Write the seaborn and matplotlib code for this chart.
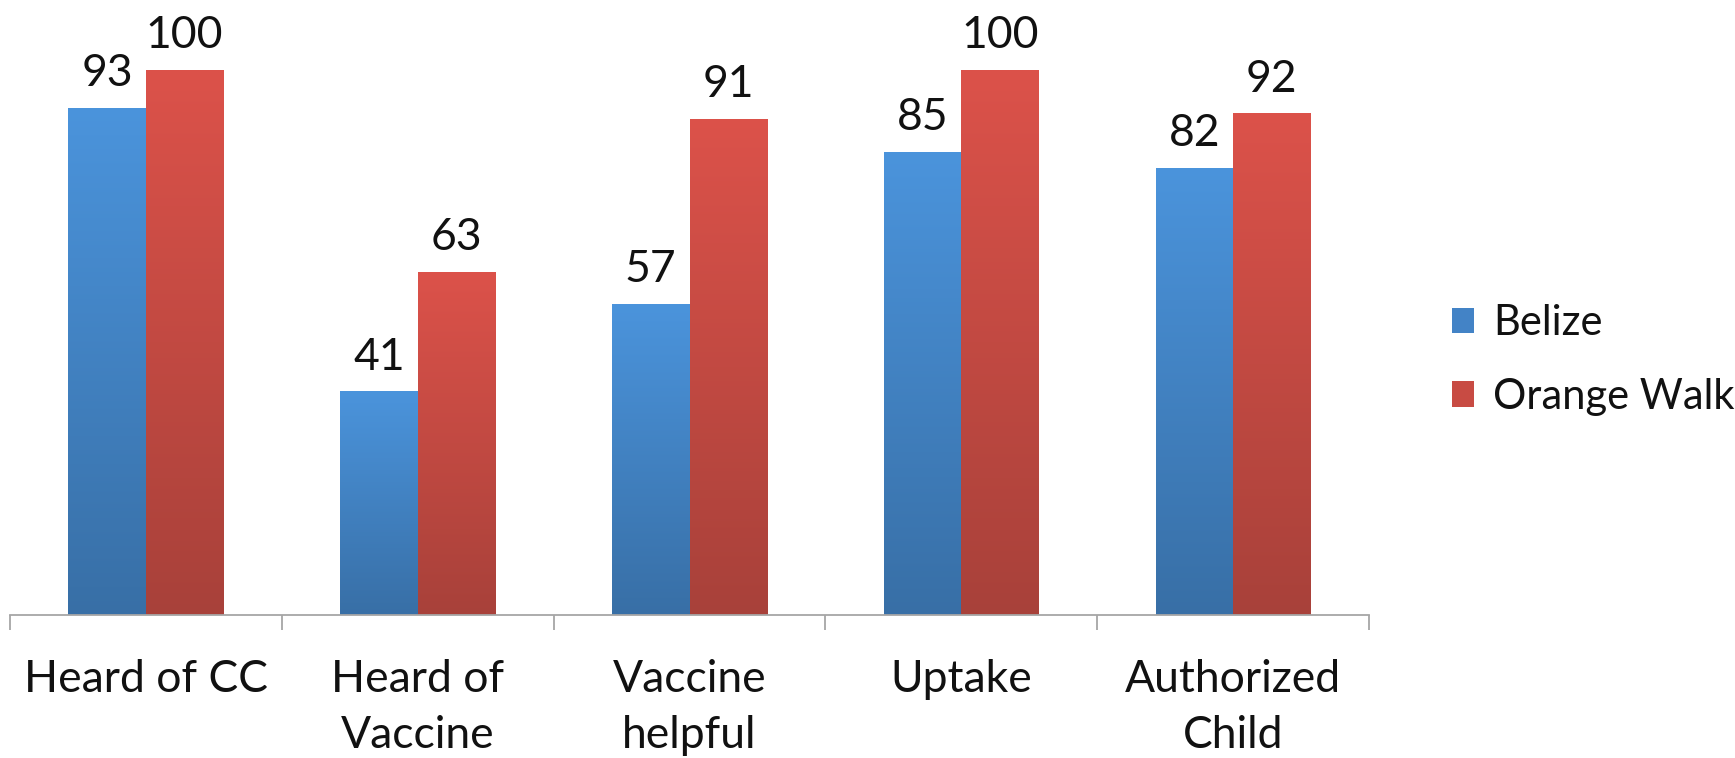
import numpy as np
import pandas as pd
import matplotlib
matplotlib.use("Agg")
import matplotlib.pyplot as plt
from matplotlib.colors import LinearSegmentedColormap
from matplotlib.patches import Patch
import seaborn as sns

# Survey results (%)
categories = ["Heard of CC", "Heard of\nVaccine", "Vaccine\nhelpful", "Uptake", "Authorized\nChild"]
belize = [93, 41, 57, 85, 82]
orange_walk = [100, 63, 91, 100, 92]
series_names = ["Belize", "Orange Walk"]

sns.set_theme(style="white")
plt.rcParams["font.family"] = ["Lato", "DejaVu Sans"]

df = pd.DataFrame({
    "category": categories * 2,
    "value": belize + orange_walk,
    "region": [series_names[0]] * len(categories) + [series_names[1]] * len(categories),
})

# top / bottom shades of the vertical gradient for each series
shades = {
    "Belize": ("#4b94dc", "#386fa6"),
    "Orange Walk": ("#dc524a", "#a8413a"),
}
mid_colors = {"Belize": "#4383c6", "Orange Walk": "#c84b43"}

fig = plt.figure(figsize=(17.35, 7.58), dpi=100)
ax = fig.add_axes([10 / 1735, 143 / 758, 1359 / 1735, 615 / 758])

sns.barplot(data=df, x="category", y="value", hue="region", order=categories,
            hue_order=series_names, palette=mid_colors, width=0.57, gap=0,
            dodge=True, ax=ax, legend=False, linewidth=0, saturation=1)

ax.set_ylim(0, 112.8)
ax.set_xlim(-0.5, len(categories) - 0.5)

# gradient fill clipped to each bar
grad = np.linspace(1, 0, 256).reshape(-1, 1)
for container, name in zip(ax.containers, series_names):
    top, bottom = shades[name]
    cmap = LinearSegmentedColormap.from_list(name, [bottom, top])
    for bar in container:
        x0, y0 = bar.get_x(), bar.get_y()
        w, h = bar.get_width(), bar.get_height()
        im = ax.imshow(grad[::-1], extent=[x0, x0 + w, y0, y0 + h], aspect="auto",
                       cmap=cmap, origin="lower", zorder=bar.get_zorder() + 0.1,
                       vmin=0, vmax=1)
        im.set_clip_path(bar)
        ax.annotate(f"{int(round(h))}", (x0 + w / 2, y0 + h), xytext=(0, 10),
                    textcoords="offset points", ha="center", va="bottom",
                    fontsize=32, color="#111111")

ax.set_ylim(0, 112.8)
ax.set_xlim(-0.5, len(categories) - 0.5)

# category labels centered, separator ticks at group boundaries
ax.set_xticks(range(len(categories)))
ax.set_xticklabels(categories, fontsize=32, color="#111111", linespacing=1.45, va="top")
ax.tick_params(axis="x", which="major", length=0, pad=32)
ax.set_xticks(np.arange(-0.5, len(categories), 1.0), minor=True)
ax.tick_params(axis="x", which="minor", length=11, width=1.3, color="#a6a6a6", bottom=True)
ax.set_xlabel("")
ax.set_ylabel("")
ax.set_yticks([])

for side in ["top", "right", "left"]:
    ax.spines[side].set_visible(False)
ax.spines["bottom"].set_color("#a6a6a6")
ax.spines["bottom"].set_linewidth(1.3)

handles = [Patch(facecolor=mid_colors[n], edgecolor="none", label=n) for n in series_names]
fig.legend(handles=handles, loc="center left", bbox_to_anchor=(1414 / 1735, 1 - 360 / 758),
           frameon=False, fontsize=30, handlelength=0.55, handleheight=0.55,
           handletextpad=0.45, labelspacing=0.85, labelcolor="#111111")

fig.savefig("out.png", dpi=100)
